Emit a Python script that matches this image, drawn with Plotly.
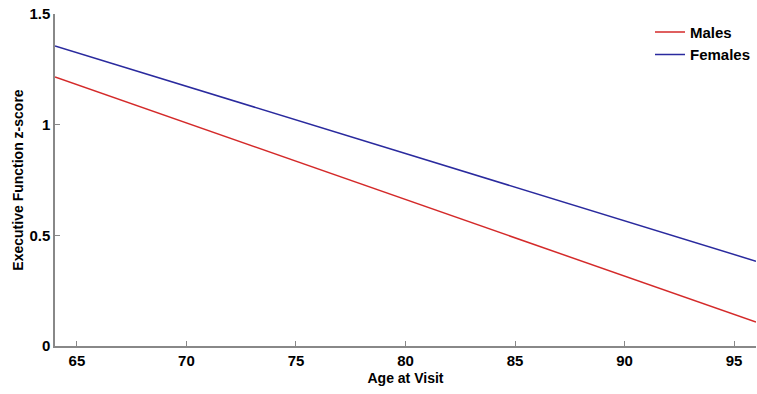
import plotly.graph_objects as go

# Fitted executive function z-score by age at visit
age = [64, 96]
males = [1.216, 0.108]
females = [1.356, 0.383]

x_ticks = [65, 70, 75, 80, 85, 90, 95]
y_ticks = [0, 0.5, 1, 1.5]
y_tick_text = ["0", "0.5", "1", "1.5"]

font = "Liberation Sans, Arial, sans-serif"

fig = go.Figure()
fig.add_trace(go.Scatter(x=age, y=males, mode="lines", name="Males",
                         line=dict(color="#d42a2a", width=1.5)))
fig.add_trace(go.Scatter(x=age, y=females, mode="lines", name="Females",
                         line=dict(color="#2a2a9e", width=1.5)))

fig.update_layout(
    width=757, height=394,
    margin=dict(l=55, r=1, t=14, b=48),
    paper_bgcolor="white", plot_bgcolor="white",
    font=dict(family=font, size=14, color="black"),
    showlegend=True,
    legend=dict(x=1.0, y=0.995, xanchor="right", yanchor="top",
                bgcolor="rgba(0,0,0,0)", borderwidth=0,
                font=dict(family=font, size=15, color="black", weight="bold"),
                itemwidth=30, tracegroupgap=0),
)
fig.update_xaxes(
    range=[64, 96], tickvals=x_ticks, ticks="inside", ticklen=5, tickcolor="#888",
    showline=True, linecolor="#888", linewidth=1.5, showgrid=False, zeroline=False,
    tickfont=dict(family=font, size=15, color="black", weight="bold"),
    title=dict(text="Age at Visit", standoff=5,
               font=dict(family=font, size=14, color="black", weight="bold")),
)
fig.update_yaxes(
    range=[0, 1.5], tickvals=y_ticks, ticktext=y_tick_text, ticks="inside", ticklen=5,
    tickcolor="#888", showline=True, linecolor="#888", linewidth=1.5,
    showgrid=False, zeroline=False,
    tickfont=dict(family=font, size=15, color="black", weight="bold"),
    title=dict(text="Executive Function z-score", standoff=2,
               font=dict(family=font, size=14, color="black", weight="bold")),
)

fig.write_html("out.html")
